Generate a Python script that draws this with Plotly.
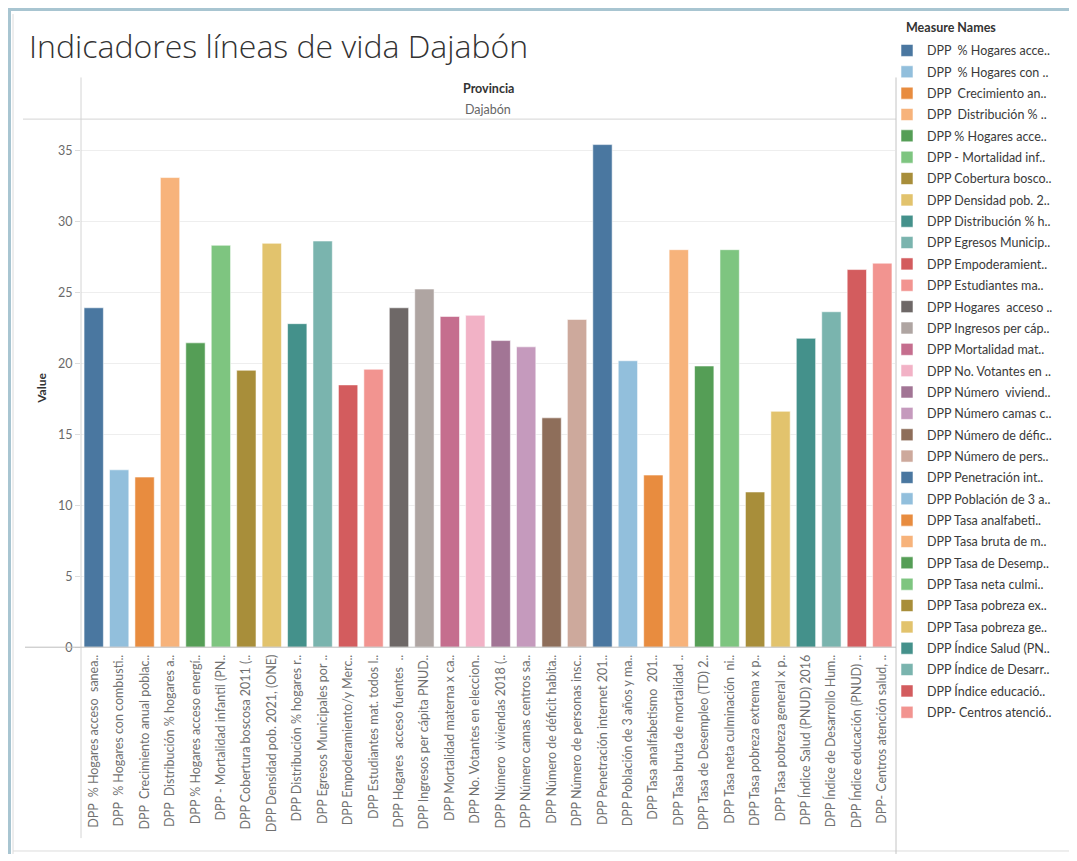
import plotly.graph_objects as go

# ---------------- data ----------------
categories = [
    "DPP  % Hogares acceso  sanea..",
    "DPP  % Hogares con combusti..",
    "DPP  Crecimiento anual poblac..",
    "DPP  Distribución % hogares a..",
    "DPP % Hogares acceso energí..",
    "DPP - Mortalidad infantil (PN..",
    "DPP Cobertura boscosa 2011 (..",
    "DPP Densidad pob. 2021, (ONE)",
    "DPP Distribución % hogares r..",
    "DPP Egresos Municipales por ..",
    "DPP Empoderamiento/y Merc..",
    "DPP Estudiantes mat. todos l..",
    "DPP Hogares  acceso fuentes  ..",
    "DPP Ingresos per cápita PNUD..",
    "DPP Mortalidad materna x ca..",
    "DPP No. Votantes en eleccion..",
    "DPP Número  viviendas 2018 (..",
    "DPP Número camas centros sa..",
    "DPP Número de déficit habita..",
    "DPP Número de personas insc..",
    "DPP Penetración internet 201..",
    "DPP Población de 3 años y ma..",
    "DPP Tasa analfabetismo  201..",
    "DPP Tasa bruta de mortalidad ..",
    "DPP Tasa de Desempleo (TD) 2..",
    "DPP Tasa neta culminación  ni..",
    "DPP Tasa pobreza extrema x p..",
    "DPP Tasa pobreza general x p..",
    "DPP Índice Salud (PNUD) 2016",
    "DPP Índice de Desarrollo Hum..",
    "DPP Índice educación (PNUD) ..",
    "DPP- Centros atención salud, ..",
]

legend_names = [
    "DPP  % Hogares acce..",
    "DPP  % Hogares con ..",
    "DPP  Crecimiento an..",
    "DPP  Distribución % ..",
    "DPP % Hogares acce..",
    "DPP - Mortalidad inf..",
    "DPP Cobertura bosco..",
    "DPP Densidad pob. 2..",
    "DPP Distribución % h..",
    "DPP Egresos Municip..",
    "DPP Empoderamient..",
    "DPP Estudiantes ma..",
    "DPP Hogares  acceso ..",
    "DPP Ingresos per cáp..",
    "DPP Mortalidad mat..",
    "DPP No. Votantes en ..",
    "DPP Número  viviend..",
    "DPP Número camas c..",
    "DPP Número de défic..",
    "DPP Número de pers..",
    "DPP Penetración int..",
    "DPP Población de 3 a..",
    "DPP Tasa analfabeti..",
    "DPP Tasa bruta de m..",
    "DPP Tasa de Desemp..",
    "DPP Tasa neta culmi..",
    "DPP Tasa pobreza ex..",
    "DPP Tasa pobreza ge..",
    "DPP Índice Salud (PN..",
    "DPP Índice de Desarr..",
    "DPP Índice educació..",
    "DPP- Centros atenció..",
]

values = [
    23.9, 12.49, 11.98, 33.07, 21.43, 28.3, 19.5, 28.44,
    22.78, 28.6, 18.47, 19.57, 23.9, 25.22, 23.29, 23.37,
    21.59, 21.15, 16.15, 23.08, 35.39, 20.17, 12.12, 27.99,
    19.8, 27.99, 10.93, 16.61, 21.75, 23.62, 26.59, 27.04,
]

y_ticks = [0, 5, 10, 15, 20, 25, 30, 35]

# ---------------- style ----------------
palette = [
    "#4a77a0", "#92bfdc", "#e88c3f", "#f7b37b", "#559e56", "#7ec580",
    "#a88e3a", "#e2c36d", "#44918b", "#7ab4ae", "#d35c5e", "#f29490",
    "#6e6867", "#afa5a2", "#c56e8e", "#f2b2c6", "#a27595", "#c59abd",
    "#8e6e5a", "#cda99c",
]

OFF = 8                      # page body margin around the figure
W, H = 1077 - OFF, 861 - OFF
PLOT_L, PLOT_R = 81, 895     # page pixels of plot area
PLOT_T, PLOT_B = 120, 652.5
MT = MB = 4
L = PLOT_L - OFF
R = W - (PLOT_R - OFF)
PW = W - L - R
GH = H - MT - MB


def px_x(p):               # page pixel -> paper x
    return (p - OFF - L) / PW


def px_y(p):               # page pixel -> paper y
    return (H - MB - (p - OFF)) / GH


def nb(s):
    return s.replace("  ", "\u00a0\u00a0")


fig = go.Figure()
for i, (cat, name, val) in enumerate(zip(categories, legend_names, values)):
    fig.add_trace(go.Bar(
        x=[nb(cat)], y=[val], name=nb(name),
        legendgroup=f"g{i}",
        marker=dict(color=palette[i % len(palette)],
                    line=dict(color="rgba(255,255,255,0.55)", width=1)),
        width=0.76,
        hoverinfo="skip",
    ))

line_grey = "#d4d4d4"
shapes = [
    # outer frame bands
    dict(type="rect", xref="paper", yref="paper", x0=px_x(OFF), x1=px_x(1077),
         y0=px_y(OFF), y1=px_y(OFF + 3), fillcolor="#a8c5d1", line_width=0, layer="above"),
    dict(type="rect", xref="paper", yref="paper", x0=px_x(OFF), x1=px_x(OFF + 3),
         y0=px_y(OFF), y1=px_y(861), fillcolor="#a8c5d1", line_width=0, layer="above"),
    dict(type="line", xref="paper", yref="paper", x0=px_x(13), x1=px_x(13),
         y0=px_y(14), y1=px_y(861), line=dict(color="#dcdcdc", width=1)),
    dict(type="line", xref="paper", yref="paper", x0=px_x(13), x1=px_x(1077),
         y0=px_y(858), y1=px_y(858), line=dict(color="#dcdcdc", width=1)),
    # header line
    dict(type="line", xref="paper", yref="paper", x0=px_x(23), x1=px_x(896),
         y0=px_y(PLOT_T), y1=px_y(PLOT_T), line=dict(color=line_grey, width=1)),
    # left axis line through header and labels
    dict(type="line", xref="paper", yref="paper", x0=px_x(81), x1=px_x(81),
         y0=px_y(845), y1=px_y(78), line=dict(color=line_grey, width=1)),
    # right border
    dict(type="line", xref="paper", yref="paper", x0=px_x(896), x1=px_x(896),
         y0=px_y(861), y1=px_y(78), line=dict(color="#c4c4c4", width=1)),
    # baseline
    dict(type="line", xref="paper", yref="paper", x0=px_x(25), x1=px_x(896),
         y0=px_y(PLOT_B), y1=px_y(PLOT_B), line=dict(color="#bdbdbd", width=1),
         layer="above"),
]

annotations = [
    dict(text="<b>Provincia</b>", xref="paper", yref="paper", x=0.5, y=px_y(89),
         showarrow=False, font=dict(size=12.5, color="#333333"),
         xanchor="center", yanchor="middle"),
    dict(text="Dajabón", xref="paper", yref="paper", x=0.5, y=px_y(110),
         showarrow=False, font=dict(size=12.5, color="#666666"),
         xanchor="center", yanchor="middle"),
    dict(text="<b>Value</b>", xref="paper", yref="paper", x=px_x(42), y=px_y(392),
         showarrow=False, textangle=-90, font=dict(size=12, color="#333333"),
         xanchor="center", yanchor="middle"),
    dict(text="<b>Measure Names</b>", xref="paper", yref="paper", x=px_x(904),
         y=px_y(28), showarrow=False, font=dict(size=12.5, color="#333333"),
         xanchor="left", yanchor="middle"),
]

fig.update_layout(
    width=W, height=H,
    margin=dict(l=L, r=R, t=MT, b=MB),
    paper_bgcolor="white", plot_bgcolor="white",
    font=dict(family="Lato, 'Open Sans', sans-serif", color="#666666"),
    barmode="relative",
    title=dict(text="Indicadores líneas de vida Dajabón", x=(29 - OFF) / W,
               xref="container", xanchor="left", y=1 - (47 - OFF) / H,
               yref="container", yanchor="middle",
               font=dict(family="Open Sans, sans-serif", size=32, color="#333333",
                         weight=300)),
    showlegend=True,
    legend=dict(x=px_x(887), xanchor="left", y=px_y(36), yanchor="top",
                font=dict(size=12.5, color="#3a3a3a"),
                tracegroupgap=2.1, itemclick=False, itemdoubleclick=False,
                bgcolor="rgba(0,0,0,0)"),
    xaxis=dict(type="category", tickangle=-90, tickfont=dict(size=12.5, color="#707070"),
               showgrid=False, showline=False, ticks="", ticklabelstandoff=4,
               fixedrange=True),
    yaxis=dict(domain=[px_y(PLOT_B), px_y(PLOT_T)],
               range=[0, (PLOT_B - PLOT_T) / 14.32], tickvals=y_ticks, showgrid=True,
               gridcolor="#eeeeee", gridwidth=1, zeroline=False, showline=False,
               ticks="outside", ticklen=5, tickcolor="#dddddd",
               tickfont=dict(size=12.5, color="#6a6a6a"), fixedrange=True),
    shapes=shapes,
    annotations=annotations,
)

fig.write_html("out.html")
